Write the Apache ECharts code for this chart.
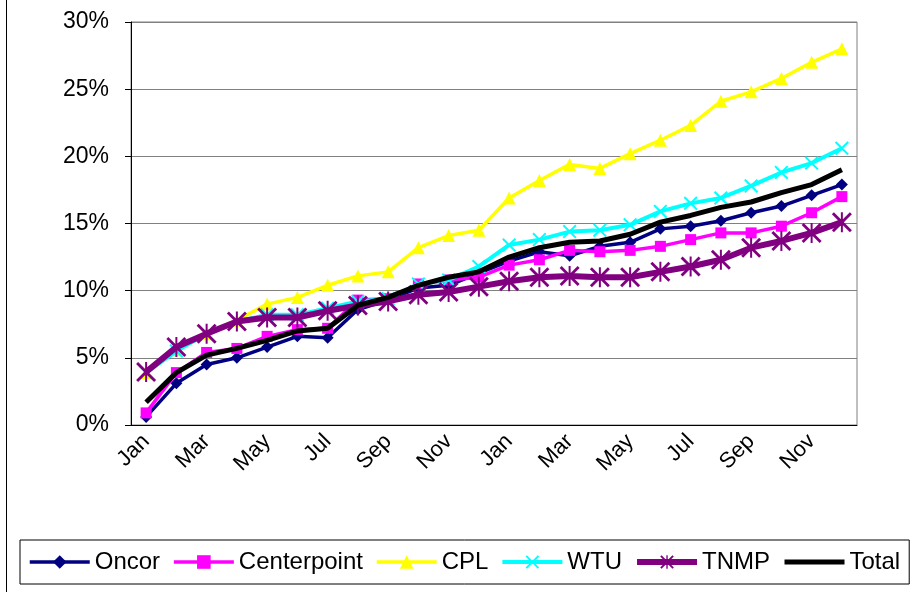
<!DOCTYPE html>
<html>
<head>
<meta charset="utf-8">
<script src="https://cdn.jsdelivr.net/npm/echarts@6/dist/echarts.min.js"></script>
<style>
  html, body { margin: 0; padding: 0; background: #fff; }
  #chart { width: 923px; height: 592px; }
</style>
</head>
<body>
<div id="chart"></div>
<script>
// two years of months, labels every other month
const months = ['Jan', 'Feb', 'Mar', 'Apr', 'May', 'Jun', 'Jul', 'Aug', 'Sep', 'Oct', 'Nov', 'Dec',
  'Jan', 'Feb', 'Mar', 'Apr', 'May', 'Jun', 'Jul', 'Aug', 'Sep', 'Oct', 'Nov', 'Dec'];

// cumulative percentages
const oncor = [0.6, 3.1, 4.5, 5.0, 5.8, 6.6, 6.5, 8.6, 9.3, 10.2, 10.4, 11.3,
  12.2, 12.9, 12.6, 13.3, 13.6, 14.6, 14.8, 15.2, 15.8, 16.3, 17.1, 17.9];
const centerpoint = [0.9, 3.9, 5.4, 5.7, 6.6, 7.1, 7.2, 9.3, 9.4, 10.5, 10.8, 11.0,
  11.9, 12.3, 13.0, 12.9, 13.0, 13.3, 13.8, 14.3, 14.3, 14.8, 15.8, 17.0];
const cpl = [3.9, 5.6, 6.8, 7.8, 9.0, 9.5, 10.4, 11.1, 11.4, 13.2, 14.1, 14.5,
  16.9, 18.2, 19.4, 19.1, 20.2, 21.2, 22.3, 24.1, 24.8, 25.8, 27.0, 28.0];
const wtu = [3.9, 5.5, 6.8, 7.7, 8.2, 8.2, 8.7, 9.2, 9.4, 10.5, 10.8, 11.8,
  13.4, 13.8, 14.4, 14.5, 14.9, 15.9, 16.5, 16.9, 17.8, 18.8, 19.5, 20.6];
const tnmp = [3.95, 5.8, 6.8, 7.7, 8.0, 8.0, 8.5, 8.9, 9.2, 9.7, 9.9, 10.3,
  10.7, 11.0, 11.1, 11.0, 11.0, 11.4, 11.8, 12.3, 13.2, 13.7, 14.3, 15.1];
const total = [1.7, 3.9, 5.2, 5.7, 6.3, 7.0, 7.2, 8.9, 9.5, 10.4, 11.0, 11.4,
  12.5, 13.2, 13.6, 13.7, 14.2, 15.1, 15.6, 16.2, 16.6, 17.3, 17.9, 19.0];

const seriesNames = ['Oncor', 'Centerpoint', 'CPL', 'WTU', 'TNMP', 'Total'];

// marker shapes like the excel ones
const xMark = 'path://M0,1 L1,0 L5,4 L9,0 L10,1 L6,5 L10,9 L9,10 L5,6 L1,10 L0,9 L4,5 Z';
const starMark = 'path://M0,1 L1,0 L5,4 L9,0 L10,1 L6,5 L10,9 L9,10 L5,6 L1,10 L0,9 L4,5 Z M4.5,0 L5.5,0 L5.5,10 L4.5,10 Z';

const font = 'Liberation Sans, Arial, sans-serif';

function makeLine(name, data, color, width, symbol, size, z) {
  return {
    name: name,
    type: 'line',
    data: data,
    z: z,
    symbol: symbol,
    symbolSize: size,
    showAllSymbol: true,
    lineStyle: { color: color, width: width },
    itemStyle: { color: color, borderWidth: 0 },
    emphasis: { disabled: true },
  };
}

const legendData = seriesNames.map(function (n) {
  if (n === 'Total') {
    // no marker on the total line
    return { name: n, itemStyle: { color: 'rgba(0,0,0,0)', borderWidth: 0 } };
  }
  return { name: n };
});

const myChart = echarts.init(document.getElementById('chart'));
const option = {
  animation: false,
  backgroundColor: '#fff',
  textStyle: { fontFamily: font },
  grid: {
    left: 131,
    right: 66,
    top: 22,
    bottom: 167,
    show: true,
    borderColor: '#808080',
    borderWidth: 1,
  },
  legend: {
    data: legendData,
    left: 20,
    top: 540,
    itemWidth: 60,
    itemHeight: 17,
    itemGap: 12,
    padding: [10, 9, 10, 8],
    borderColor: '#000',
    borderWidth: 1,
    lineStyle: { width: 'inherit' },
    textStyle: { fontSize: 24, color: '#000', fontFamily: font },
  },
  xAxis: {
    type: 'category',
    data: months,
    boundaryGap: true,
    axisLine: { lineStyle: { color: '#000', width: 1 } },
    axisTick: { interval: 0, length: 6, lineStyle: { color: '#000' } },
    axisLabel: {
      interval: 1,
      rotate: 45,
      margin: 13,
      fontSize: 22,
      color: '#000',
      fontFamily: font,
    },
    splitLine: { show: false },
  },
  yAxis: {
    type: 'value',
    min: 0,
    max: 30,
    interval: 5,
    axisLine: { show: true, lineStyle: { color: '#000', width: 1 } },
    axisTick: { show: true, length: 6, lineStyle: { color: '#000' } },
    axisLabel: {
      formatter: '{value}%',
      margin: 22,
      fontSize: 23,
      color: '#000',
      fontFamily: font,
    },
    splitLine: { lineStyle: { color: '#808080', width: 1 } },
  },
  series: [
    makeLine('Oncor', oncor, '#000080', 3.5, 'diamond', 12, 2),
    makeLine('Centerpoint', centerpoint, '#FF00FF', 3.5, 'rect', 11, 3),
    makeLine('CPL', cpl, '#FFFF00', 3.5, 'triangle', 13, 4),
    makeLine('WTU', wtu, '#00FFFF', 4, xMark, 14, 5),
    makeLine('TNMP', tnmp, '#800080', 6, starMark, 20, 6),
    makeLine('Total', total, '#000000', 5, 'none', 0, 7),
  ],
  graphic: [
    {
      type: 'line',
      shape: { x1: 6.5, y1: 0, x2: 6.5, y2: 592 },
      style: { stroke: '#000', lineWidth: 1 },
    },
  ],
};
myChart.setOption(option);
</script>
</body>
</html>
